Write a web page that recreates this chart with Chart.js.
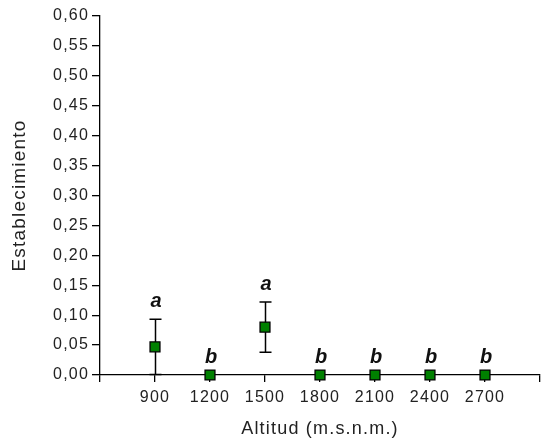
<!DOCTYPE html>
<html><head><meta charset="utf-8">
<script src="https://cdn.jsdelivr.net/npm/chart.js@4/dist/chart.umd.min.js"></script>
<style>html,body{margin:0;padding:0;background:#fff}#wrap{width:541px;height:443px}</style>
</head><body><div id="wrap"><canvas id="c" width="541" height="443"></canvas></div>
<script>
const altitudes = [900, 1200, 1500, 1800, 2100, 2400, 2700];
const establecimiento = [0.047, 0, 0.080, 0, 0, 0, 0];
const errores = [0.046, 0, 0.042, 0, 0, 0, 0];
const letras = ['a', 'b', 'a', 'b', 'b', 'b', 'b'];

const FAM = '"Liberation Sans", Arial, sans-serif';
const SPACING = '1.2px';

const spacingPlugin = {
  id: 'spacing',
  beforeUpdate(chart) { chart.ctx.letterSpacing = SPACING; },
  beforeLayout(chart) { chart.ctx.letterSpacing = SPACING; },
  beforeDraw(chart) { chart.ctx.letterSpacing = SPACING; },
  afterLayout(chart) {
    // plot area reaches x = 540 as in the reference
    const xs = chart.scales.x;
    const R = 540;
    if (xs && xs.right !== R) {
      chart.chartArea.right = R;
      chart.chartArea.width = R - chart.chartArea.left;
      xs.right = R;
      xs.width = R - xs.left;
      xs.configure();
    }
  }
};

const errorPlugin = {
  id: 'errs',
  beforeDatasetsDraw(chart) {
    const ctx = chart.ctx, xs = chart.scales.x, ys = chart.scales.y;
    ctx.save();
    ctx.strokeStyle = '#000'; ctx.lineWidth = 1.5;
    altitudes.forEach((a, i) => {
      const e = errores[i];
      const x = Math.round(xs.getPixelForValue(a)) + 0.5;
      if (e > 0) {
        const lo = Math.max(0, establecimiento[i] - e), hi = establecimiento[i] + e;
        const yl = ys.getPixelForValue(lo), yh = ys.getPixelForValue(hi);
        ctx.beginPath();
        ctx.moveTo(x, yl); ctx.lineTo(x, yh);
        ctx.moveTo(x - 6, yh); ctx.lineTo(x + 6, yh);
        if (lo > 0) { ctx.moveTo(x - 6, yl); ctx.lineTo(x + 6, yl); }
        ctx.stroke();
      }
    });
    ctx.restore();
  },
  afterDraw(chart) {
    const ctx = chart.ctx, xs = chart.scales.x, ys = chart.scales.y;
    ctx.save();
    ctx.fillStyle = '#111';
    ctx.letterSpacing = '0px';
    ctx.font = 'italic bold 20px ' + FAM;
    ctx.textAlign = 'center'; ctx.textBaseline = 'alphabetic';
    altitudes.forEach((a, i) => {
      const x = xs.getPixelForValue(a) + 1;
      const top = establecimiento[i] + errores[i];
      const y = ys.getPixelForValue(top) - 12;
      ctx.fillText(letras[i], x, y);
    });
    ctx.restore();
  }
};

const fontT = {family: FAM, size: 16};

new Chart(document.getElementById('c'), {
  type: 'scatter',
  data: {
    datasets: [{
      data: altitudes.map((a, i) => ({x: a, y: establecimiento[i]})),
      pointStyle: 'rect',
      pointRadius: 7,
      backgroundColor: '#008000',
      borderColor: '#000',
      borderWidth: 1.3,
      clip: false
    }]
  },
  options: {
    responsive: false,
    animation: false,
    devicePixelRatio: 1,
    layout: {padding: {top: 16, right: 1, left: 0, bottom: 0}},
    plugins: {legend: {display: false}, tooltip: {enabled: false}},
    scales: {
      x: {
        type: 'linear', min: 600, max: 3000,
        afterFit(s) { s.height = 68; s.paddingRight = 0; s.paddingLeft = 0; },
        ticks: {stepSize: 300, color: '#222', font: fontT, padding: 6, maxRotation: 0, autoSkip: false,
          callback: v => (v === 600 || v === 3000) ? '' : String(v)},
        grid: {drawOnChartArea: false, drawTicks: true, tickLength: 7, color: '#000', lineWidth: 1.3},
        border: {display: true, color: '#000', width: 1.3},
        title: {display: true, text: 'Altitud (m.s.n.m.)', color: '#222', font: {family: FAM, size: 18}, padding: {top: 0, bottom: 3}}
      },
      y: {
        min: 0, max: 0.6,
        afterFit(s) { s.width = 100; s.paddingLeft = 0; s.paddingRight = 0; },
        ticks: {stepSize: 0.05, color: '#222', font: fontT, padding: 3, autoSkip: false,
          callback: v => v.toFixed(2).replace('.', ',')},
        grid: {drawOnChartArea: false, drawTicks: true, tickLength: 8, color: '#000', lineWidth: 1.3},
        border: {display: true, color: '#000', width: 1.3},
        title: {display: true, text: 'Establecimiento', color: '#222', font: {family: FAM, size: 19}, padding: {top: 8, bottom: 0}}
      }
    }
  },
  plugins: [spacingPlugin, errorPlugin]
});
</script></body></html>
